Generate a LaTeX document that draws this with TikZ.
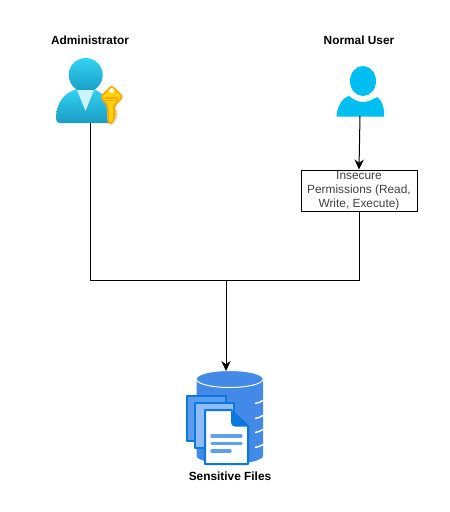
\documentclass[tikz,border=0pt]{standalone}
\usepackage{fontspec}
\setmainfont{Liberation Sans}
\usetikzlibrary{arrows.meta}
\definecolor{adminA}{HTML}{32D4F5}
\definecolor{adminB}{HTML}{1A9CC4}
\definecolor{adminV}{HTML}{CDF3FB}
\definecolor{keyA}{HTML}{FFD400}
\definecolor{keyB}{HTML}{FAA81A}
\definecolor{userC}{HTML}{00BEF2}
\definecolor{dbC}{HTML}{4289E8}
\definecolor{docD}{HTML}{0A78DC}
\definecolor{docM}{HTML}{5C9CF0}
\definecolor{docL}{HTML}{8FBCF8}
\definecolor{lineC}{HTML}{5FA0EE}
\tikzset{
  flow/.style={draw=black,line width=0.75pt},
  arrowflow/.style={flow,-{Stealth[length=7.5pt,width=7pt]}},
  heading/.style={font=\bfseries\fontsize{8.9}{10.5}\selectfont,text=black,inner sep=0pt},
  permbox/.style={draw=black,line width=0.75pt,fill=white,minimum width=87pt,minimum height=30.75pt,inner sep=0pt,align=center,text=black!75,font=\fontsize{8.9}{10.5}\selectfont},
  iconbox/.style={inner sep=0pt,outer sep=0pt},
  sheet/.style={draw=docD,line width=1.5pt,line join=round}
}
\begin{document}
\begin{tikzpicture}[x=0.75pt,y=-0.75pt]
\useasboundingbox (0,0) rectangle (450,512);
% Administrator icon
\shade[top color=adminA,bottom color=adminB] (56,119) .. controls (56,98) and (70,88) .. (85,88) .. controls (100,88) and (112,98) .. (112,123) -- (60,123) .. controls (57.5,123) and (56,121.5) .. (56,119) -- cycle;
\shade[top color=adminA,bottom color=adminB] (85.7,75) circle (17);
\fill[adminV] (77,90) -- (94,90) -- (85.5,111) -- cycle;
% Key
\fill[keyB,rounded corners=2.5pt] (111.7,84.5) -- (124,97) -- (115,106) -- (115,110) -- (117,112) -- (115,114) -- (117,116) -- (115,118) -- (115,121) -- (112,124) -- (109.5,124) -- (107,121.5) -- (107,106) -- (99.5,97) -- cycle;
\fill[keyA,rounded corners=2pt] (111.7,87) -- (121.5,97) -- (113,105) -- (113,121) -- (111,122.5) -- (109,120) -- (109,105) -- (102,97) -- cycle;
\fill[white] (111.7,90.5) circle (2.4);
\fill[keyB] (105,97) rectangle (118,98.5);
\fill[keyB] (105,100) rectangle (118,101);
% User icon
\fill[userC] (363,81) ellipse (13 and 15);
\fill[userC] (336.5,116.5) .. controls (337,107) and (342,98) .. (349,96) .. controls (354,100) and (358,102) .. (363,102) .. controls (368,102) and (372,100) .. (377,97) .. controls (381,99) and (385,108) .. (384,116.5) -- cycle;
% Database
\fill[dbC] (196.5,379) -- (196.5,456) .. controls (196.5,460) and (212,464) .. (230,464) .. controls (248,464) and (263,460) .. (263,456) -- (263,379) -- cycle;
\fill[dbC,draw=white,line width=0.75pt] (229.7,379) ellipse (33.5 and 8.5);
\foreach \yy in {402,417,431,446}{
  \draw[white,line width=1.1pt] (255,\yy+1.5) .. controls (258,\yy+1) and (261,\yy) .. (263,\yy-1.5);
}
% Documents
\draw[sheet,fill=docM] (187,396) rectangle (226,441);
\draw[sheet,fill=docL] (195,403) rectangle (234,448);
\draw[sheet,fill=white] (205,410) -- (231,410) -- (248,426) -- (248,464) -- (205,464) -- cycle;
\fill[docD] (231,410) -- (248,426.5) -- (235,426.5) .. controls (232.5,426.5) and (231,425) .. (231,422) -- cycle;
\draw[lineC,line width=2.6pt,line cap=round] (212,436) -- (241,436);
\draw[lineC,line width=2.6pt,line cap=round] (212,443.5) -- (241,443.5);
\draw[lineC,line width=2.6pt,line cap=round] (212,451) -- (230,451);
% Named anchors of the three icons
\node[iconbox,minimum width=42pt,minimum height=47.25pt] (admin) at (90.5,91.5) {};
\node[iconbox,minimum width=36pt,minimum height=37.5pt] (user) at (360,91) {};
\node[iconbox,minimum width=50pt,minimum height=69.75pt] (db) at (226,417.5) {};
% Labels
\node[heading] (adminlabel) at (90,40) {Administrator};
\node[heading] (userlabel) at (359,40) {Normal User};
\node[heading] (dblabel) at (230,476) {Sensitive Files};
% Box
\node[permbox] (perm) at (359,190.5) {Insecure\\Permissions (Read,\\Write, Execute)};
\coordinate (rail) at (0,280);
\coordinate (joinL) at (admin.south |- rail);
\coordinate (joinR) at (perm.south |- rail);
\coordinate (join) at (db.north |- rail);
% Connectors
\draw[arrowflow] (user.south) -- (perm.north);
\draw[flow] (admin.south) -- (joinL) -- (joinR) -- (perm.south);
\draw[arrowflow] (join) -- (db.north);
\end{tikzpicture}
\end{document}
